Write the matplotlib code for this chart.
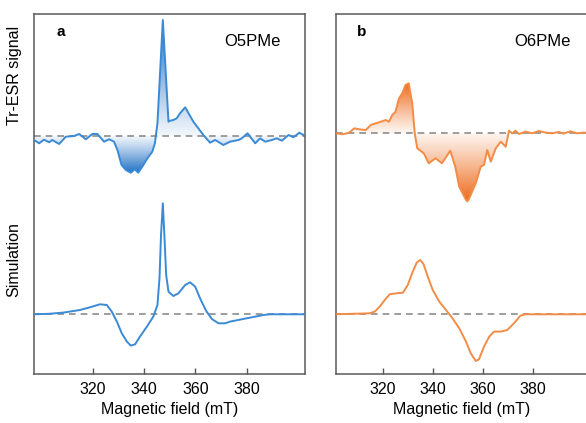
import numpy as np
import matplotlib
matplotlib.use('Agg')
import matplotlib.pyplot as plt
from matplotlib.colors import to_rgb

plt.rcParams['font.family'] = ['Liberation Sans', 'DejaVu Sans']

# Panel a: O5PMe, experimental Tr-ESR trace
a_exp_field = [297.1, 299.1, 301.0, 303.0, 304.2, 306.9, 309.5, 312.7, 314.7, 317.3,
               319.8, 321.8, 324.4, 326.4, 328.3, 329.6, 331.2, 332.9, 334.8, 336.4,
               337.7, 339.3, 341.3, 343.2, 344.2, 345.2, 347.3, 349.5, 350.1, 351.4,
               352.7, 354.0, 356.0, 359.2, 363.1, 365.7, 367.7, 370.9, 373.5, 376.8,
               378.1, 380.3, 383.3, 385.2, 387.2, 389.8, 391.7, 393.7, 396.3, 398.2,
               400.5, 402.1]
a_exp_signal = [-4.3, -7.6, -4.0, -6.6, -4.3, -8.3, -1.0, -0.3, 1.7, -3.6,
                1.7, 1.7, -6.0, -3.6, -6.0, -14.3, -29.3, -34.3, -37.0, -33.6,
                -37.0, -31.0, -22.6, -16.0, -7.6, 12.4, 115.7, 14.0, 15.0, 15.7,
                17.4, 22.4, 28.4, 14.0, 0.7, -7.0, -4.3, -9.3, -6.0, -4.3,
                -2.6, 2.4, -7.6, -2.6, -6.0, -4.3, -2.6, -5.0, 0.7, -1.6,
                3.0, 0.7]

# Panel a: simulation
a_sim_field = [297.0, 303.0, 308.5, 315.0, 318.9, 322.8, 325.5, 327.4, 329.4, 331.3,
               333.3, 334.8, 336.5, 338.4, 341.1, 343.6, 345.2, 346.0, 346.6, 347.3,
               347.9, 348.6, 349.5, 351.4, 353.4, 356.0, 357.9, 359.9, 361.8, 364.2,
               366.4, 369.0, 371.6, 373.5, 380.0, 386.5, 389.2, 403.0]
a_sim_signal = [0, 0.5, 1.7, 4.3, 7.0, 10.0, 9.3, 2.7, -7.3, -19.0,
                -27.3, -31.3, -30.0, -22.3, -12.3, -2.3, 9.3, 36.0, 79.3, 111.0,
                79.3, 39.3, 22.7, 18.3, 21.0, 29.3, 32.0, 27.7, 16.0, 3.3,
                -4.7, -9.0, -9.0, -7.3, -4.0, -0.7, 0, 0]

# Panel b: O6PMe, experimental Tr-ESR trace
b_exp_field = [301.2, 303.9, 306.5, 308.5, 310.5, 313.1, 315.1, 317.1, 319.1, 321.1,
               322.4, 323.7, 325.0, 326.4, 327.7, 329.0, 330.3, 331.7, 332.7, 333.7,
               336.3, 338.3, 341.0, 343.6, 346.9, 348.9, 350.5, 353.2, 353.8, 354.5,
               357.1, 359.1, 360.4, 361.7, 363.1, 365.1, 367.1, 369.1, 370.4, 371.7,
               373.0, 374.4, 377.0, 379.6, 382.3, 385.0, 387.6, 390.3, 392.2, 394.9,
               397.5, 400.2, 402.0]
b_exp_signal = [0, -1.0, 0.7, 5.0, 4.0, 3.3, 8.3, 10.0, 11.6, 13.3,
                11.6, 18.3, 21.6, 35.0, 40.0, 48.3, 50.0, 30.0, 0, -15.0,
                -20.0, -30.0, -25.0, -30.0, -17.4, -33.4, -53.4, -66.7, -68.0, -65.0,
                -50.0, -33.4, -31.7, -16.7, -28.4, -15.0, -8.4, -13.4, 2.6, 0,
                2.6, -0.7, 1.7, 0, 2.3, 0.7, 0, 1.3, -0.3, 2.0,
                0, 0.7, 0.5]

# Panel b: simulation
b_sim_field = [301.0, 314.7, 316.7, 318.7, 320.7, 322.7, 325.3, 328.0, 329.9, 331.9,
               333.5, 334.9, 336.2, 337.9, 339.9, 342.5, 345.2, 347.8, 350.5, 353.2,
               355.1, 357.1, 358.4, 360.4, 362.5, 364.4, 367.1, 369.7, 372.4, 375.0,
               377.0, 402.5]
b_sim_signal = [0, 1.0, 2.7, 7.7, 14.3, 20.0, 21.0, 21.7, 29.3, 42.7,
                51.7, 54.3, 50.3, 37.7, 24.3, 12.7, 4.3, -4.0, -14.0, -27.3,
                -39.0, -46.7, -45.0, -32.3, -22.3, -17.3, -17.3, -15.7, -9.0, -1.3,
                0, 0]

x_ticks = [320, 340, 360, 380]


def gradient_fill(ax, x, y, base, color):
    # fill between trace and baseline, darker further from the baseline
    x = np.asarray(x)
    y = np.asarray(y) + base
    rgb = to_rgb(color)
    for sign in (1, -1):
        part = np.where(sign * (y - base) > 0, y, base)
        ext = np.max(sign * (part - base))
        if ext <= 0:
            continue
        poly = ax.fill_between(x, base, part, facecolor='none', edgecolor='none')
        img = np.zeros((200, 1, 4))
        img[..., :3] = rgb
        ramp = 0.06 + 0.94 * np.linspace(0, 1, 200) ** 1.1
        if sign > 0:
            img[:, 0, 3] = ramp
            extent = (x.min(), x.max(), base, base + ext)
        else:
            img[:, 0, 3] = ramp[::-1]
            extent = (x.min(), x.max(), base - ext, base)
        im = ax.imshow(img, aspect='auto', extent=extent, origin='lower', zorder=1,
                       interpolation='bilinear')
        im.set_clip_path(poly.get_paths()[0], transform=ax.transData)


def draw_panel(ax, exp_f, exp_s, sim_f, sim_s, line_color, fill_color, xlim,
               top_base, letter, name, name_x):
    ax.axhline(top_base, color='#8c8c8c', lw=1.2, ls=(0, (4, 3)), zorder=2)
    ax.axhline(59.7, color='#8c8c8c', lw=1.2, ls=(0, (4, 3)), zorder=2)
    gradient_fill(ax, exp_f, exp_s, top_base, fill_color)
    ax.plot(exp_f, np.asarray(exp_s) + top_base, color=line_color, lw=1.4, zorder=3,
            solid_joinstyle='round')
    ax.plot(sim_f, np.asarray(sim_s) + 59.7, color=line_color, lw=1.4, zorder=3,
            solid_joinstyle='round')
    ax.set_xlim(*xlim)
    ax.set_ylim(0, 360)
    ax.set_xticks(x_ticks)
    ax.set_yticks([])
    ax.tick_params(axis='x', direction='in', length=4.5, width=1.0, color='#555555',
                   labelsize=11.5, pad=6)
    for sp in ax.spines.values():
        sp.set_color('#5a5a5a')
        sp.set_linewidth(1.1)
    ax.set_xlabel('Magnetic field (mT)', fontsize=11.5, labelpad=3)
    ax.text(0.1, 0.95, letter, transform=ax.transAxes, fontsize=11, fontweight='bold',
            ha='center', va='center')
    ax.text(name_x, 0.925, name, transform=ax.transAxes, fontsize=12,
            ha='center', va='center')


fig = plt.figure(figsize=(5.86, 4.23), dpi=100)
ax_a = fig.add_axes([34 / 586, 49 / 423, 271 / 586, 360 / 423])
ax_b = fig.add_axes([336 / 586, 49 / 423, 252 / 586, 360 / 423])

draw_panel(ax_a, a_exp_field, a_exp_signal, a_sim_field, a_sim_signal,
           '#3a8ad6', '#1f6fc5', (297.1, 402.7), 238.3, 'a', 'O5PMe', 0.805)
draw_panel(ax_b, b_exp_field, b_exp_signal, b_sim_field, b_sim_signal,
           '#f28c46', '#ee6b1c', (301.2, 402.0), 240.7, 'b', 'O6PMe', 0.82)

fig.text(14 / 586, 1 - 75 / 423, 'Tr-ESR signal', rotation=90, fontsize=11.5,
         ha='center', va='center')
fig.text(14 / 586, 1 - 260 / 423, 'Simulation', rotation=90, fontsize=11.5,
         ha='center', va='center')

fig.savefig('out.png', dpi=100)
